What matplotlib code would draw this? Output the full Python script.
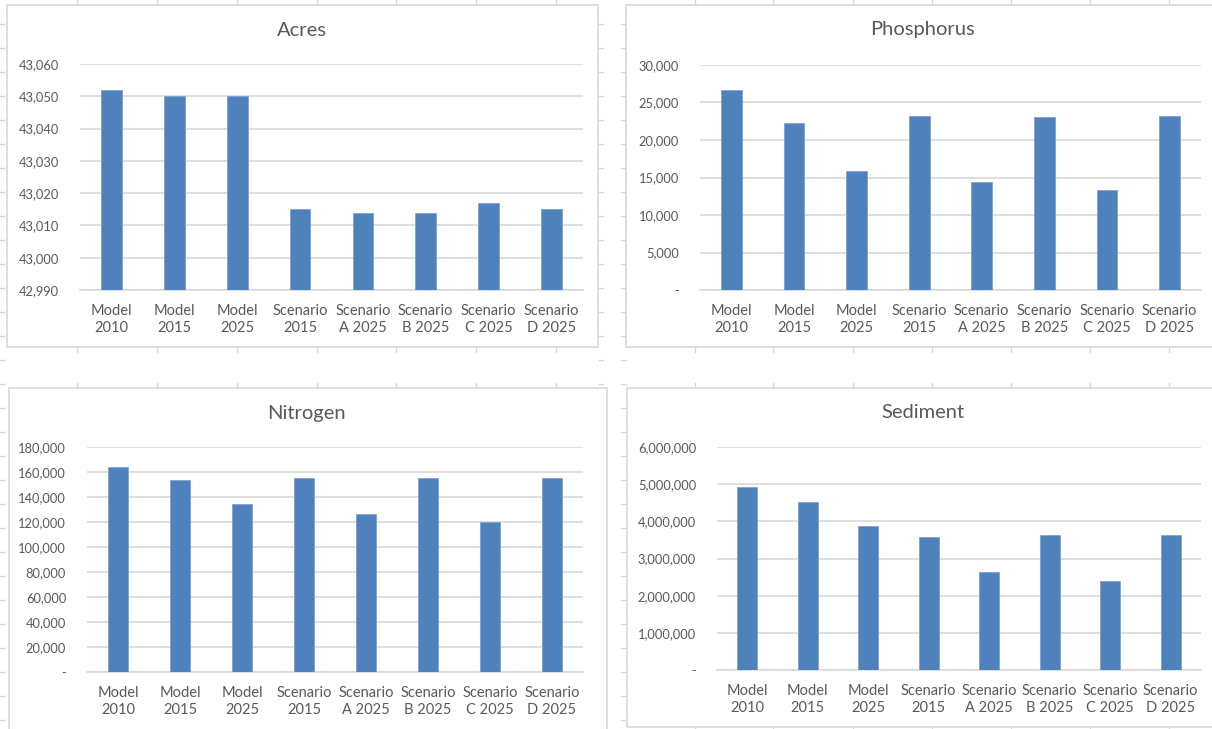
import numpy as np
import matplotlib.pyplot as plt
from matplotlib.patches import Rectangle
from matplotlib.lines import Line2D
from matplotlib.ticker import FuncFormatter, MultipleLocator

plt.rcParams["font.family"] = ["Lato", "DejaVu Sans"]

categories = ["Model\n2010", "Model\n2015", "Model\n2025", "Scenario\n2015",
              "Scenario\nA 2025", "Scenario\nB 2025", "Scenario\nC 2025", "Scenario\nD 2025"]

acres = [43052, 43050, 43050, 43015, 43014, 43014, 43017, 43015]
phosphorus = [26700, 22250, 15900, 23150, 14450, 23050, 13400, 23150]
nitrogen = [164300, 153300, 134200, 155500, 126400, 155500, 120000, 155500]
sediment = [4915000, 4510000, 3880000, 3590000, 2640000, 3640000, 2400000, 3620000]

W, H = 1212, 729
BAR = "#4F81BD"
TXT = "#595959"
GRID = "#D9D9D9"
SHEET = "#D3D7E3"

fig = plt.figure(figsize=(W / 100, H / 100), dpi=100)


def frac(x0, y0, x1, y1):
    # pixel box (top-left origin) -> figure fraction rect
    return [x0 / W, 1 - y1 / H, (x1 - x0) / W, (y1 - y0) / H]


# faint worksheet cell marks peeking out between the chart objects
bg = fig.add_axes([0, 0, 1, 1], zorder=0)
bg.set_xlim(0, W)
bg.set_ylim(H, 0)
bg.axis("off")
cols_left = [77, 157, 237, 317, 396, 476, 556]
cols_right = [695, 773, 853, 932, 1011, 1090, 1169]
rows = np.arange(24, H, 24)
for c in cols_left:
    for y0, y1 in [(0, 4), (347, 352), (383, 388)]:
        bg.add_line(Line2D([c, c], [y0, y1], color=SHEET, lw=1))
for c in cols_right:
    for y0, y1 in [(0, 4), (347, 352), (383, 388), (726, 729)]:
        bg.add_line(Line2D([c, c], [y0, y1], color=SHEET, lw=1))
for r in rows:
    for x0, x1 in [(0, 4), (599, 603), (621, 626)]:
        bg.add_line(Line2D([x0, x1], [r, r], color=SHEET, lw=1))


def fmt(v, pos):
    if v == 0:
        return "-"
    return f"{v:,.0f}"


def chart(box, plot, title, title_xy, values, ymin, ymax, step):
    fig.patches.append(Rectangle((box[0] / W, 1 - box[3] / H),
                                 (box[2] - box[0]) / W, (box[3] - box[1]) / H,
                                 transform=fig.transFigure, facecolor="white",
                                 edgecolor=GRID, lw=1.2, zorder=1))
    ax = fig.add_axes(frac(*plot), zorder=2)
    ax.patch.set_alpha(0)
    x = np.arange(len(values))
    ax.bar(x, values, width=0.33, color=BAR, edgecolor="#7EA2CF", lw=0.6, zorder=3)
    ax.set_xlim(-0.5, len(values) - 0.5)
    ax.set_ylim(ymin, ymax)
    ax.yaxis.set_major_locator(MultipleLocator(step))
    ax.yaxis.set_major_formatter(FuncFormatter(fmt))
    ax.grid(axis="y", color=GRID, lw=1.2, zorder=0)
    ax.set_axisbelow(True)
    for s in ["top", "right", "left"]:
        ax.spines[s].set_visible(False)
    ax.spines["bottom"].set_color(GRID)
    ax.spines["bottom"].set_linewidth(1.2)
    ax.set_xticks(x)
    ax.set_xticklabels(categories, linespacing=1.25)
    ax.tick_params(axis="x", length=0, pad=10, labelsize=10.5, labelcolor=TXT)
    ax.tick_params(axis="y", length=0, pad=15, labelsize=9.3, labelcolor=TXT)
    fig.text(title_xy[0] / W, 1 - title_xy[1] / H, title, fontsize=14.5,
             color=TXT, ha="center", va="center", zorder=5)
    return ax


chart((7, 5, 598, 347), (80, 64, 583, 290), "Acres", (302, 30),
      acres, 42990, 43060, 10)
chart((626, 5, 1216, 347), (700, 65, 1201, 290), "Phosphorus", (922, 30),
      phosphorus, 0, 30000, 5000)
chart((9, 388, 607, 733), (87, 447, 583, 672), "Nitrogen", (306, 413),
      nitrogen, 0, 180000, 20000)
chart((627, 388, 1216, 727), (717, 447, 1201, 670), "Sediment", (923, 413),
      sediment, 0, 6000000, 1000000)

fig.savefig("out.png", dpi=100, facecolor="white")
